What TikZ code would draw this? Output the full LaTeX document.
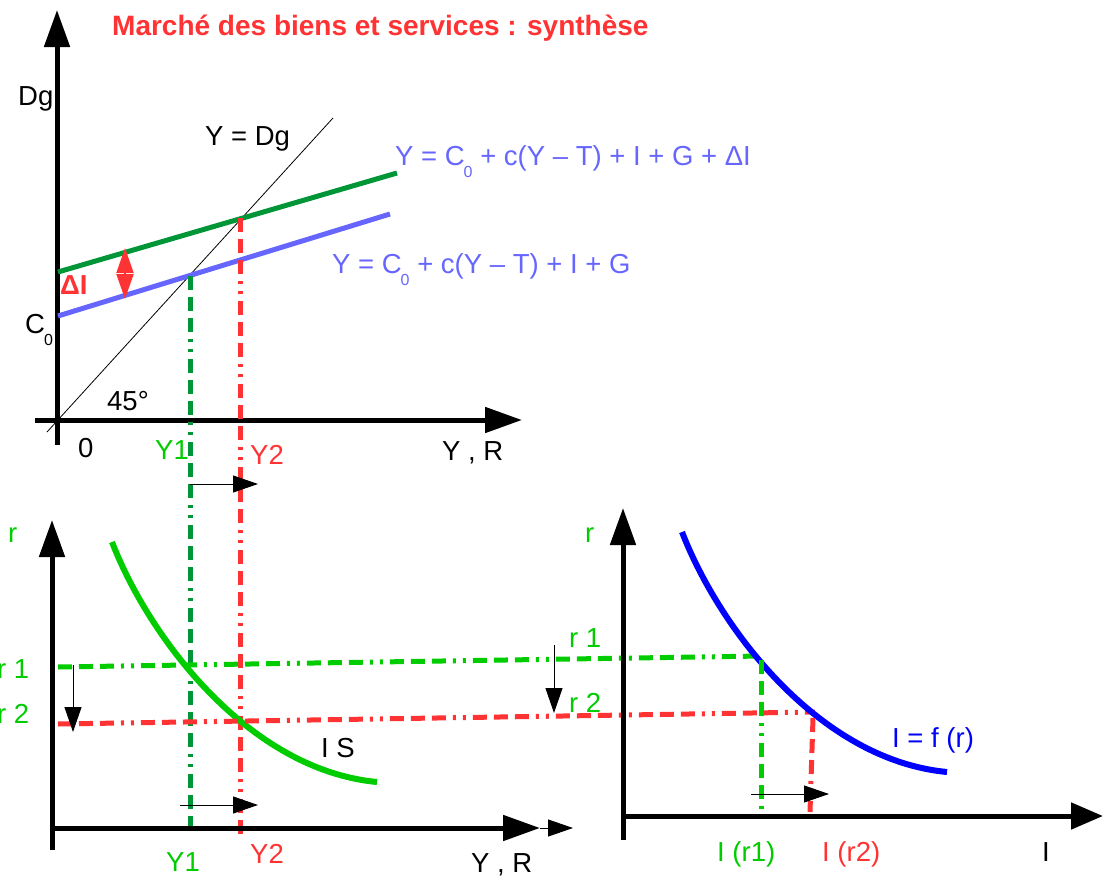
\documentclass[tikz,border=0pt]{standalone}
\usepackage{fontspec}
\setmainfont{Liberation Sans}
\usetikzlibrary{arrows.meta}
\definecolor{tred}{RGB}{255,51,51}
\definecolor{dgreen}{RGB}{0,150,55}
\definecolor{lgreen}{RGB}{0,204,0}
\definecolor{lblue}{RGB}{102,102,255}
\definecolor{fblue}{RGB}{0,0,255}
\newcommand{\zsub}{\kern-1pt\raisebox{-12pt}{\fontsize{16}{16}\selectfont 0}}
\begin{document}
\begin{tikzpicture}[x=1pt,y=-1pt,
  axis/.style={line width=5pt,-{Triangle[length=37pt,width=25pt]}},
  smallarrow/.style={line width=1pt,-{Triangle[length=25pt,width=17pt]}},
  ddot/.style={line width=5pt,dash pattern=on 14pt off 7pt on 14pt off 7pt on 14pt off 7pt on 3pt off 7pt on 3pt off 7pt},
  curve/.style={line width=6pt},
  lbl/.style={inner sep=0pt,anchor=base west,font=\fontsize{27.5}{33}\selectfont},
]
\useasboundingbox (0,0) rectangle (1104,878);

% ---------- coordinates ----------
\coordinate (tyB) at (57,445); \coordinate (tyT) at (57,10);
\coordinate (txL) at (35,420); \coordinate (txR) at (522,420);
\coordinate (dgA) at (47,432); \coordinate (dgB) at (333,118);
\coordinate (gA) at (58,272);  \coordinate (gB) at (397,173);
\coordinate (bA) at (58,316);  \coordinate (bB) at (390,214);
\coordinate (E1) at (190,276); \coordinate (E2) at (240,218);
\coordinate (E1b) at (190,828); \coordinate (E2b) at (240,835);
\coordinate (dA) at (125,248); \coordinate (dB) at (125,299);
\coordinate (mA) at (190,484); \coordinate (mB) at (258,484);

\coordinate (lyB) at (52,850); \coordinate (lyT) at (52,520);
\coordinate (lxL) at (52,828); \coordinate (lxR) at (540,828); \coordinate (lxR2) at (573,828);
\coordinate (isA) at (112,542); \coordinate (isB) at (377,782);
\coordinate (r1A) at (58,667); \coordinate (r1B) at (762,656);
\coordinate (r2A) at (58,724); \coordinate (r2B) at (815,712);
\coordinate (ldA) at (73,665); \coordinate (ldB) at (73,732);
\coordinate (lrA) at (180,805); \coordinate (lrB) at (258,805);

\coordinate (ryB) at (623,840); \coordinate (ryT) at (623,508);
\coordinate (rxL) at (621,816); \coordinate (rxR) at (1103,816);
\coordinate (ifA) at (682,532); \coordinate (ifB) at (947,772);
\coordinate (gvA) at (761,660); \coordinate (gvB) at (761,816);
\coordinate (rvA) at (813,718); \coordinate (rvB) at (810,812);
\coordinate (rrA) at (751,794); \coordinate (rrB) at (829,794);
\coordinate (rdA) at (554,645); \coordinate (rdB) at (554,713);

% ---------- top panel ----------
\draw[axis] (tyB) -- (tyT);
\draw[axis] (txL) -- (txR);
\draw[line width=0.8pt] (dgA) -- (dgB);
\draw[dgreen,line width=5pt] (gA) -- (gB);
\draw[lblue,line width=5pt] (bA) -- (bB);
\draw[tred,line width=2pt,{Triangle[length=25pt,width=17pt]}-{Triangle[length=25pt,width=17pt]}] (dA) -- (dB);
\draw[dgreen,ddot] (E1) -- (E1b);
\draw[tred,ddot] (E2) -- (E2b);
\draw[smallarrow] (mA) -- (mB);

\node[lbl,font=\fontsize{28}{33}\selectfont\bfseries,text=tred] (title) at (112,35) {Marché des biens et services : synthèse};
\node[lbl] (dg) at (18,105) {Dg};
\node[lbl] (ydg) at (205,145) {Y = Dg};
\node[lbl,text=lblue] (eq1) at (395,165) {Y = C\zsub\ + c(Y – T) + I + G + ΔI};
\node[lbl,text=lblue] (eq2) at (332,273) {Y = C\zsub\ + c(Y – T) + I + G};
\node[lbl,text=tred,font=\fontsize{27.5}{33}\selectfont\bfseries] (di) at (60,294) {ΔI};
\node[lbl] (c0) at (25,333) {C\zsub};
\node[lbl] (deg) at (107,410) {45°};
\node[lbl] (zero) at (78,457) {0};
\node[lbl,text=lgreen] (ty1) at (155,459) {Y1};
\node[lbl,text=tred] (ty2) at (250,464) {Y2};
\node[lbl] (tyr) at (442,460) {Y , R};

% ---------- bottom-left panel ----------
\draw[axis] (lyB) -- (lyT);
\draw[axis] (lxL) -- (lxR);
\draw[smallarrow] (lxR) -- (lxR2);
\draw[lgreen,curve] (isA) .. controls (150,640) and (250,770) .. (isB);
\draw[lgreen,ddot] (r1A) -- (r1B);
\draw[tred,ddot] (r2A) -- (r2B);
\draw[smallarrow] (ldA) -- (ldB);
\draw[smallarrow] (lrA) -- (lrB);

\node[lbl,text=lgreen] (lr) at (8,542) {r};
\node[lbl,text=lgreen] (lr1) at (-3,678) {r 1};
\node[lbl,text=lgreen] (lr2) at (-3,723) {r 2};
\node[lbl] (is) at (321,757) {I S};
\node[lbl,text=lgreen] (by1) at (166,871) {Y1};
\node[lbl,text=tred] (by2) at (250,863) {Y2};
\node[lbl] (byr) at (471,872) {Y , R};

% ---------- right panel ----------
\draw[axis,-{Triangle[length=32pt,width=26pt]}] (rxL) -- (rxR);
\draw[fblue,curve] (ifA) .. controls (720,630) and (820,760) .. (ifB);
\draw[lgreen,ddot] (gvA) -- (gvB);
\draw[tred,ddot] (rvA) -- (rvB);
\draw[axis] (ryB) -- (ryT);
\draw[smallarrow] (rrA) -- (rrB);
\draw[smallarrow] (rdA) -- (rdB);

\node[lbl,text=lgreen] (rr) at (585,542) {r};
\node[lbl,text=lgreen] (rr1) at (569,647) {r 1};
\node[lbl,text=lgreen] (rr2) at (569,712) {r 2};
\node[lbl,text=fblue] (ifr) at (892,747) {I = f (r)};
\node[lbl,text=lgreen] (ir1) at (717,861) {I (r1)};
\node[lbl,text=tred] (ir2) at (822,861) {I (r2)};
\node[lbl] (ii) at (1042,861) {I};
\end{tikzpicture}
\end{document}
